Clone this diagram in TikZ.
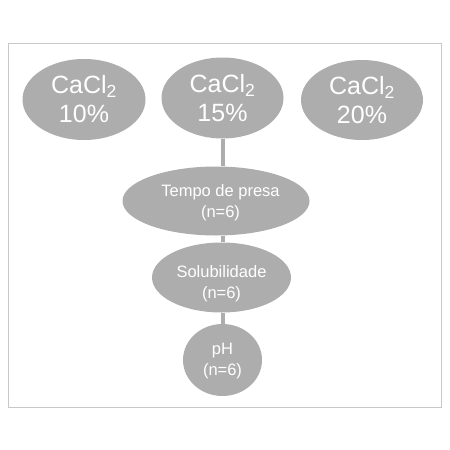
\documentclass[tikz,border=0pt]{standalone}
\usepackage{fontspec}
\setmainfont{Liberation Sans}
\usetikzlibrary{shapes.geometric,backgrounds}
\definecolor{blobgray}{HTML}{ADADAD}
\definecolor{framegray}{HTML}{C8C8C8}
\begin{document}
\begin{tikzpicture}[x=1pt,y=-1pt,
  blob/.style={ellipse,fill=blobgray,draw=none,inner sep=0pt,text=white,align=center},
  lbl/.style={text=white,align=center,inner sep=0pt},
  bigtxt/.style={font=\fontsize{25}{29}\selectfont},
  smalltxt/.style={font=\fontsize{16.5}{21}\selectfont},
  link/.style={draw=blobgray,line width=4pt}]
\useasboundingbox (0,0) rectangle (450,450);
\draw[framegray,line width=1pt] (8.5,43) rectangle (441,407);
\node[blob,bigtxt,minimum width=123pt,minimum height=81pt] (c10) at (84,99.5) {CaCl$_{\mathrm{2}}$\\10\%};
\node[blob,bigtxt,minimum width=122pt,minimum height=81pt] (c15) at (222.5,98) {CaCl$_{\mathrm{2}}$\\15\%};
\node[blob,bigtxt,minimum width=122pt,minimum height=80pt] (c20) at (362,100) {CaCl$_{\mathrm{2}}$\\20\%};
\node[blob,minimum width=187pt,minimum height=69pt] (tempo) at (216,201) {};
\node[lbl,smalltxt] (tempot) at (220.5,203) {Tempo de presa\\(n=6)};
\node[blob,minimum width=139pt,minimum height=70pt] (sol) at (221.5,277.5) {};
\node[lbl,smalltxt] (solt) at (221.5,284) {Solubilidade\\(n=6)};
\node[blob,minimum width=79pt,minimum height=72pt] (ph) at (222.5,360) {};
\node[lbl,smalltxt] (pht) at (222.5,361) {pH\\(n=6)};
\begin{scope}[on background layer]
\draw[link] (c15.south) -- (c15.south |- tempo.north);
\draw[link] (c15.south |- tempo.south) -- (c15.south |- sol.north);
\draw[link] (c15.south |- sol.south) -- (c15.south |- ph.north);
\end{scope}
\end{tikzpicture}
\end{document}
